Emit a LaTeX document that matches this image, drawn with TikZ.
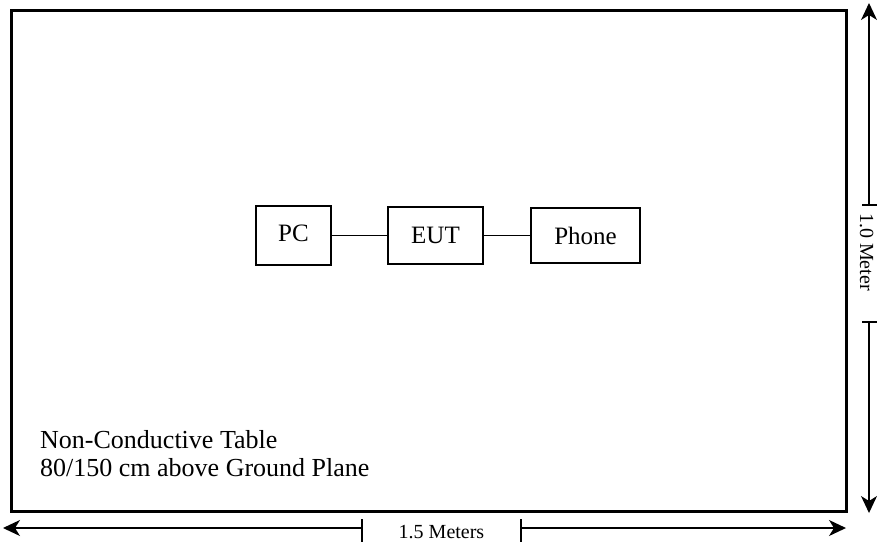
\documentclass[tikz,border=0pt]{standalone}
\usepackage{fontspec}
\setmainfont{Liberation Serif}
\usetikzlibrary{arrows.meta, positioning, calc}
\definecolor{tsInk}{HTML}{000000}
\tikzset{
  tstable/.style={draw=tsInk, line width=3pt},
  tsbox/.style={
    draw=tsInk, line width=1.5pt, inner sep=0pt, text=tsInk,
    font=\fontsize{25}{28}\selectfont,
  },
  tslink/.style={draw=tsInk, line width=1.3pt},
  tsdim/.style={
    -{Stealth[length=17pt, width=16pt, inset=5pt]}, draw=tsInk, line width=1.3pt,
  },
  tstick/.style={draw=tsInk, line width=1.3pt},
  tsnote/.style={font=\fontsize{26}{28}\selectfont, text=tsInk, inner sep=0pt, anchor=base west},
  tslabel/.style={font=\fontsize{20}{22}\selectfont, text=tsInk, inner sep=0pt},
}

\begin{document}
\begin{tikzpicture}[x=1pt, y=-1pt]
\useasboundingbox (0,0) rectangle (877,542);

% Table -------------------------------------------------------------------
\draw[tstable] (11.5,10) rectangle (846.5,511.5);

\node[tsbox, minimum width=75pt, minimum height=59pt] (pc) at (293.5,235.5) {\raisebox{5pt}{PC}};
\node[tsbox, minimum width=95pt, minimum height=57pt] (eut) at (435.5,235.5) {\raisebox{-3pt}{EUT}};
\node[tsbox, minimum width=109pt, minimum height=55pt] (phone) at (585.5,235.5) {Phone};

\draw[tslink] (pc) -- (eut);
\draw[tslink] (eut) -- (phone);

\node[tsnote] (note1) at (40,448) {Non-Conductive Table};
\node[tsnote] (note2) at (40,476) {80/150 cm above Ground Plane};

% Width -------------------------------------------------------------------
\coordinate (wl) at (362,528);
\coordinate (wr) at (521,528);
\coordinate (wlend) at (3,528);
\coordinate (wrend) at (846,528);
\draw[tstick] (362,519) -- (362,542);
\draw[tstick] (521,519) -- (521,542);
\draw[tsdim] (wl) -- (wlend);
\draw[tsdim] (wr) -- (wrend);
\node[tslabel, anchor=base] (wlabel) at (441.5,538) {1.5 Meters};

% Depth -------------------------------------------------------------------
\coordinate (dt) at (869,205);
\coordinate (db) at (869,322);
\coordinate (dtend) at (869,3);
\coordinate (dbend) at (869,513);
\draw[tstick] (862,205) -- (877,205);
\draw[tstick] (862,322) -- (877,322);
\draw[tsdim] (dt) -- (dtend);
\draw[tsdim] (db) -- (dbend);
\node[tslabel, rotate=-90] (dlabel) at (866.5,252) {1.0 Meter};

\end{tikzpicture}
\end{document}
